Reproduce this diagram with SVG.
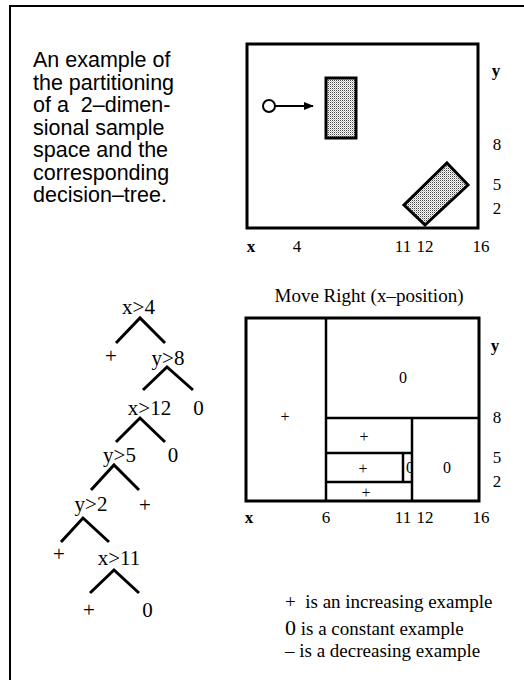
<svg xmlns="http://www.w3.org/2000/svg" width="524" height="680" viewBox="0 0 524 680">
<style>
.sans{font-family:"Liberation Sans",Arial,sans-serif;font-size:21.5px;fill:#000}
.ser{font-family:"Liberation Serif","Times New Roman",serif;fill:#000}
.tree{font-size:21px;text-anchor:middle}
.ax{font-size:17px;text-anchor:middle}
.axb{font-size:17px;font-weight:bold;text-anchor:middle}
.lab{font-size:16px;text-anchor:middle}
.leg{font-size:19px}
.br{fill:none;stroke:#000;stroke-width:3;stroke-linejoin:miter;stroke-linecap:butt}
.frame{fill:none;stroke:#000;stroke-width:3}
.part{fill:none;stroke:#000;stroke-width:2.5}
</style>
<defs>
<pattern id="dots" width="2" height="2" patternUnits="userSpaceOnUse">
<rect width="2" height="2" fill="#fff"/>
<rect width="1" height="1" fill="#444"/>
<rect x="1" y="1" width="1" height="1" fill="#bbb"/>
</pattern>
<clipPath id="clipSmall"><rect x="404" y="454" width="7" height="27"/></clipPath>
<marker id="ah" markerWidth="10" markerHeight="8" refX="9" refY="4" orient="auto" markerUnits="userSpaceOnUse">
<path d="M0,0 L10,4 L0,8 z" fill="#000"/>
</marker>
</defs>
<rect width="524" height="680" fill="#fff"/>
<!-- outer frame -->
<path d="M10,680 V6 H524" fill="none" stroke="#000" stroke-width="2"/>
<!-- description -->
<g id="description" class="sans">
<text x="33" y="67">An example of</text>
<text x="33" y="90">the partitioning</text>
<text x="33" y="112" xml:space="preserve">of a  2–dimen-</text>
<text x="33" y="135">sional sample</text>
<text x="33" y="157">space and the</text>
<text x="33" y="180">corresponding</text>
<text x="33" y="202">decision–tree.</text>
</g>
<!-- top sample space -->
<g id="sample-space">
<rect x="247" y="44" width="231" height="184" class="frame"/>
<rect x="326" y="78" width="30" height="60" fill="url(#dots)" stroke="#000" stroke-width="3"/>
<polygon points="447,163 468,185 425,225 404,205" fill="url(#dots)" stroke="#000" stroke-width="3" stroke-linejoin="miter"/>
<line x1="275" y1="106" x2="313" y2="106" stroke="#000" stroke-width="2" marker-end="url(#ah)"/>
<circle cx="269" cy="106" r="6" fill="#fff" stroke="#000" stroke-width="2"/>
<g class="ser">
<text x="496" y="76" class="axb">y</text>
<text x="497" y="150" class="ax">8</text>
<text x="497" y="190" class="ax">5</text>
<text x="497" y="214" class="ax">2</text>
<text x="251" y="252" class="axb">x</text>
<text x="297" y="252" class="ax">4</text>
<text x="403" y="252" class="ax">11</text>
<text x="425" y="252" class="ax">12</text>
<text x="481" y="252" class="ax">16</text>
</g>
</g>
<!-- decision tree nodes -->
<g class="ser tree">
<g id="n-x4"><text x="138.5" y="314">x&gt;4</text></g>
<g id="l-plus1"><text x="111" y="363">+</text></g>
<g id="n-y8"><text x="168" y="365">y&gt;8</text></g>
<g id="n-x12"><text x="149.5" y="415">x&gt;12</text></g>
<g id="l-zero1"><text x="198.5" y="415">0</text></g>
<g id="n-y5"><text x="119.5" y="462">y&gt;5</text></g>
<g id="l-zero2"><text x="173" y="462">0</text></g>
<g id="n-y2"><text x="91" y="511">y&gt;2</text></g>
<g id="l-plus2"><text x="145" y="512">+</text></g>
<g id="l-plus3"><text x="59" y="561">+</text></g>
<g id="n-x11"><text x="119" y="565">x&gt;11</text></g>
<g id="l-plus4"><text x="89" y="617">+</text></g>
<g id="l-zero3"><text x="147.5" y="617">0</text></g>
</g>
<!-- tree connectors -->
<g id="connectors" class="br">
<path d="M116,343 L140,318 L165,343"/>
<path d="M143,390 L167,367 L193,390"/>
<path d="M116,442 L140,418 L165,442"/>
<path d="M91,490 L114,465 L139,490"/>
<path d="M61,542 L83,518 L109,542"/>
<path d="M90,593 L114,570 L139,593"/>
</g>
<!-- partition -->
<g id="partition">
<text x="369" y="302" class="ser" font-size="19" text-anchor="middle">Move Right (x–position)</text>
<rect x="246" y="318" width="233" height="183" class="frame"/>
<line x1="326" y1="318" x2="326" y2="501" class="part" stroke-width="3"/>
<line x1="326" y1="418" x2="479" y2="418" class="part" stroke-width="3"/>
<line x1="412" y1="418" x2="412" y2="501" class="part" stroke-width="3"/>
<line x1="326" y1="453" x2="412" y2="453" class="part"/>
<line x1="326" y1="482" x2="412" y2="482" class="part"/>
<line x1="403" y1="453" x2="403" y2="482" class="part" stroke-width="2"/>
<g class="ser lab">
<text x="403" y="383">0</text>
<text x="285" y="422">+</text>
<text x="364" y="442">+</text>
<text x="363" y="474">+</text>
<text x="366" y="498">+</text>
<text x="447" y="473">0</text>
<text x="410" y="473" clip-path="url(#clipSmall)">0</text>
</g>
<g class="ser">
<text x="495" y="351" class="axb">y</text>
<text x="497" y="423" class="ax">8</text>
<text x="497" y="463" class="ax">5</text>
<text x="497" y="487" class="ax">2</text>
<text x="249" y="523" class="axb">x</text>
<text x="326" y="523" class="ax">6</text>
<text x="403" y="523" class="ax">11</text>
<text x="425" y="523" class="ax">12</text>
<text x="481" y="523" class="ax">16</text>
</g>
</g>
<!-- legend -->
<g id="legend" class="ser leg">
<text x="285" y="608" xml:space="preserve">+  is an increasing example</text>
<text x="285" y="635"><tspan font-size="22">0</tspan> is a constant example</text>
<text x="285" y="657">– is a decreasing example</text>
</g>
</svg>
